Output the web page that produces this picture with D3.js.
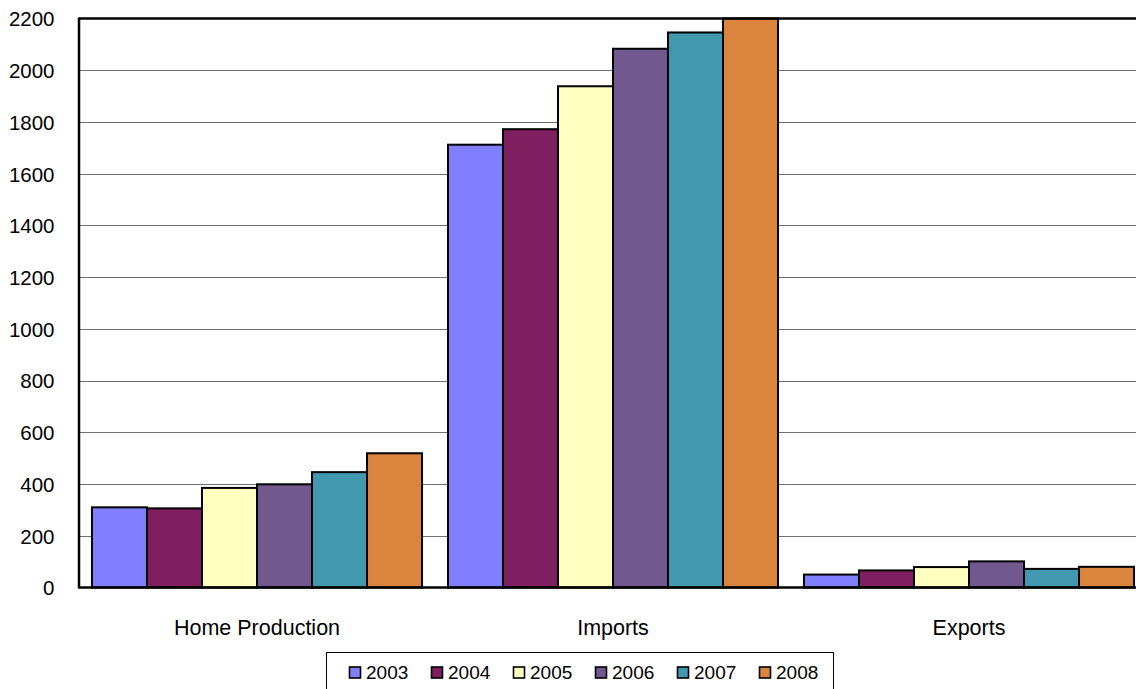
<!DOCTYPE html>
<html><head><meta charset="utf-8">
<script src="https://cdn.jsdelivr.net/npm/d3@7"></script>
<style>body{margin:0;background:#fff;} svg{display:block;} text{font-family:"Liberation Sans",Arial,sans-serif;}</style>
</head><body>
<div id="chart"></div>
<script>
const categories = ["Home Production", "Imports", "Exports"];
const years = ["2003", "2004", "2005", "2006", "2007", "2008"];
const values2003 = [310, 1712, 50];
const values2004 = [306, 1772, 66];
const values2005 = [385, 1938, 79];
const values2006 = [399, 2083, 101];
const values2007 = [446, 2146, 72];
const values2008 = [519, 2200, 80];
const yTicks = [0, 200, 400, 600, 800, 1000, 1200, 1400, 1600, 1800, 2000, 2200];
const colors = ["#8080FF", "#7F1F5F", "#FFFFC0", "#71588F", "#4198AF", "#DB843D"];

const series = [values2003, values2004, values2005, values2006, values2007, values2008];

const W = 1136, H = 689;
const pLeft = 79, pTop = 18.5, pBottom = 587.5, pRight = 1147;

const svg = d3.select("#chart").append("svg").attr("width", W).attr("height", H);

const y = d3.scaleLinear().domain([0, 2200]).range([pBottom, pTop]);
const x0 = d3.scaleBand().domain(categories).range([pLeft, pRight]).padding(0);
const x1 = d3.scaleBand().domain(years).range([0, x0.bandwidth()]).paddingInner(0).paddingOuter(0.236);

// gridlines
svg.append("g").selectAll("line").data(yTicks.filter(d => d > 0 && d < 2200)).join("line")
  .attr("x1", pLeft).attr("x2", W).attr("y1", d => Math.round(y(d)) + 0.5).attr("y2", d => Math.round(y(d)) + 0.5)
  .attr("stroke", "#6e6e6e").attr("stroke-width", 1.2);

// bars
const g = svg.append("g");
categories.forEach((c, ci) => {
  years.forEach((yr, si) => {
    const v = series[si][ci];
    g.append("rect")
      .attr("x", x0(c) + x1(yr))
      .attr("y", y(v))
      .attr("width", x1.bandwidth())
      .attr("height", y(0) - y(v))
      .attr("fill", colors[si])
      .attr("stroke", "#000").attr("stroke-width", 2);
  });
});

// axes frame
svg.append("line").attr("x1", pLeft).attr("x2", W).attr("y1", pTop).attr("y2", pTop).attr("stroke", "#000").attr("stroke-width", 2.5);
svg.append("line").attr("x1", pLeft).attr("x2", pLeft).attr("y1", pTop - 1).attr("y2", pBottom + 1).attr("stroke", "#000").attr("stroke-width", 2.5);
svg.append("line").attr("x1", pLeft).attr("x2", W).attr("y1", pBottom).attr("y2", pBottom).attr("stroke", "#000").attr("stroke-width", 2.5);

// y axis
const yAxis = d3.axisLeft(y).tickValues(yTicks).tickFormat(d3.format("d")).tickSize(0).tickPadding(0);
const ya = svg.append("g").attr("transform", `translate(54.5,0)`).call(yAxis);
ya.select(".domain").remove();
ya.selectAll("text").attr("font-size", 20.5).attr("fill", "#000").attr("font-family", "Liberation Sans, Arial, sans-serif").attr("dy", "0.36em");

// x axis labels
const xAxis = d3.axisBottom(x0).tickSize(0).tickPadding(0);
const xa = svg.append("g").attr("transform", `translate(0,0)`).call(xAxis);
xa.select(".domain").remove();
xa.selectAll("text").attr("font-size", 21.5).attr("fill", "#000").attr("font-family", "Liberation Sans, Arial, sans-serif").attr("y", 627).attr("dy", "0.36em");

// legend
const lg = svg.append("g");
lg.append("rect").attr("x", 326.5).attr("y", 652.5).attr("width", 507).attr("height", 40).attr("fill", "#fff").attr("stroke", "#000").attr("stroke-width", 1);
years.forEach((yr, i) => {
  const lx = 349.5 + i * 82;
  lg.append("rect").attr("x", lx).attr("y", 667).attr("width", 11).attr("height", 11)
    .attr("fill", colors[i]).attr("stroke", "#000").attr("stroke-width", 1.6);
  lg.append("text").attr("x", lx + 16.5).attr("y", 672.5).attr("dy", "0.36em")
    .attr("font-size", 19).attr("fill", "#000").text(yr);
});
</script>
</body></html>
